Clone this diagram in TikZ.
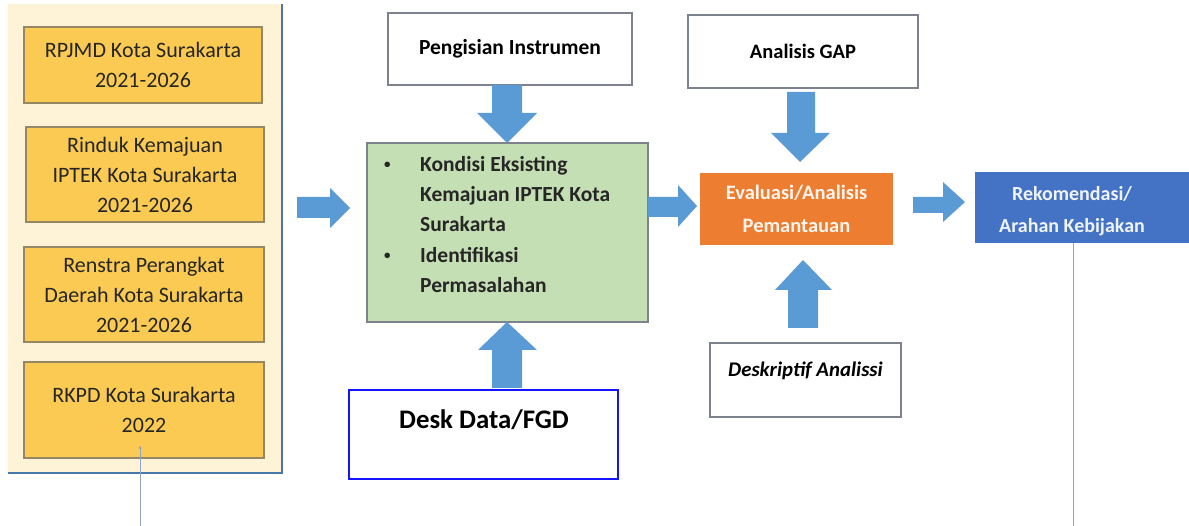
\documentclass[tikz,border=0pt]{standalone}
\usepackage{fontspec}
\setmainfont{Carlito}
\usetikzlibrary{arrows.meta}
\definecolor{panel}{RGB}{254,243,214}
\definecolor{gold}{RGB}{250,202,82}
\definecolor{goldborder}{RGB}{150,135,100}
\definecolor{lgreen}{RGB}{197,223,180}
\definecolor{orng}{RGB}{237,125,49}
\definecolor{bbox}{RGB}{68,114,196}
\definecolor{arrowblue}{RGB}{91,155,213}
\definecolor{panelline}{RGB}{70,120,170}
\definecolor{grayborder}{RGB}{125,130,140}
\definecolor{thinline}{RGB}{140,165,200}
\definecolor{deskblue}{RGB}{20,20,255}
\newcommand{\smallbul}{\raisebox{3pt}{\fontsize{13}{13}\selectfont\textbullet}}
\begin{document}
\begin{tikzpicture}[x=1pt,y=1pt,
  ybox/.style={draw=goldborder,line width=1.2pt,fill=gold,align=center,
    font=\fontsize{22}{30}\selectfont,text=black!85,inner sep=0pt},
  wbox/.style={draw=grayborder,line width=1.2pt,fill=white,inner sep=0pt},
  barrow/.style={fill=arrowblue,draw=none},
  thin/.style={draw=thinline,line width=1pt}]
\useasboundingbox (0,0) rectangle (1189,-526);
\fill[white] (0,0) rectangle (1189,-526);
% left panel
\fill[panel] (8,-4) rectangle (282,-473);
\draw[panelline,line width=1.5pt] (282,-4) -- (282,-473) -- (8,-473);
\node[ybox,minimum width=238pt,minimum height=76pt] (r1) at (143,-65)
  {RPJMD Kota Surakarta\\2021-2026};
\node[ybox,minimum width=238pt,minimum height=95pt] (r2) at (145,-174.5)
  {Rinduk Kemajuan\\IPTEK Kota Surakarta\\2021-2026};
\node[ybox,minimum width=240pt,minimum height=95pt] (r3) at (144,-294.5)
  {Renstra Perangkat\\Daerah Kota Surakarta\\2021-2026};
\node[ybox,minimum width=240pt,minimum height=96pt] (r4) at (144,-410)
  {RKPD Kota Surakarta\\2022};
\coordinate (r4low) at (140,-526);
\draw[thin,-{Latex[length=4pt,width=3pt]}] (r4low) -- (140,-445);
% Pengisian
\node[wbox,minimum width=244pt,minimum height=72pt,
  font=\bfseries\fontsize{21.5}{24}\selectfont] (peng) at (510,-49) {Pengisian Instrumen};
% green box
\node[draw=grayborder,line width=1.2pt,fill=lgreen,minimum width=281pt,minimum height=179pt,
  inner sep=0pt] (green) at (507.5,-232.5) {};
\node[anchor=north west,inner sep=0pt,align=left,
  font=\bfseries\fontsize{21.5}{30.3}\selectfont,text=black!85] (gtext) at (384,-156)
  {\makebox[36pt][l]{\smallbul}Kondisi Eksisting\\
   \makebox[36pt][l]{}Kemajuan IPTEK Kota\\
   \makebox[36pt][l]{}Surakarta\\
   \makebox[36pt][l]{\smallbul}Identifikasi\\
   \makebox[36pt][l]{}Permasalahan};
% desk
\node[draw=deskblue,line width=1.5pt,fill=white,minimum width=269pt,minimum height=89pt,
  inner sep=0pt] (desk) at (483.5,-434.5) {};
\node[font=\bfseries\fontsize{26.8}{30}\selectfont,inner sep=0pt] (desktext) at (484,-420) {Desk Data/FGD};
% GAP
\node[wbox,minimum width=230pt,minimum height=73pt,
  font=\bfseries\fontsize{20.5}{24}\selectfont] (gap) at (803,-51.5) {Analisis GAP};
% orange
\node[fill=orng,minimum width=193pt,minimum height=72pt,inner sep=0pt,align=center,
  text=white!92!orng,font=\bfseries\fontsize{20.5}{33}\selectfont] (eval) at (796.5,-209)
  {Evaluasi/Analisis\\Pemantauan};
% deskriptif
\node[wbox,minimum width=191pt,minimum height=74pt] (desc) at (805.5,-380) {};
\node[font=\bfseries\itshape\fontsize{20.8}{24}\selectfont,inner sep=0pt] (desctext) at (805.5,-371) {Deskriptif Analissi};
% blue box
\node[fill=bbox,minimum width=216pt,minimum height=71pt,inner sep=0pt] (rek) at (1083,-207.5) {};
\node[align=center,text=white!92!bbox,font=\bfseries\fontsize{20}{32}\selectfont,inner sep=0pt]
  (rektext) at (1072,-211) {Rekomendasi/\\Arahan Kebijakan};
\coordinate (reklow) at (1073,-526);
\draw[thin] (1073,-243) -- (reklow);
% block arrows
\fill[barrow] (297,-197) -- (330,-197) -- (330,-188) -- (350,-208) -- (330,-228) -- (330,-218) -- (297,-218) -- cycle;
\fill[barrow] (492,-85) -- (522,-85) -- (522,-113) -- (537,-113) -- (507,-143) -- (477,-113) -- (492,-113) -- cycle;
\fill[barrow] (492,-388) -- (522,-388) -- (522,-350) -- (537,-350) -- (507,-322) -- (478,-350) -- (492,-350) -- cycle;
\fill[barrow] (648,-197) -- (678,-197) -- (678,-185) -- (697,-206) -- (678,-227) -- (678,-217) -- (648,-217) -- cycle;
\fill[barrow] (787,-92) -- (815,-92) -- (815,-133) -- (830,-133) -- (800,-162) -- (771,-133) -- (787,-133) -- cycle;
\fill[barrow] (788,-328) -- (818,-328) -- (818,-290) -- (832,-290) -- (803,-260) -- (775,-290) -- (788,-290) -- cycle;
\fill[barrow] (913,-197) -- (943,-197) -- (943,-182) -- (965,-202) -- (943,-222) -- (943,-213) -- (913,-213) -- cycle;
\end{tikzpicture}
\end{document}
